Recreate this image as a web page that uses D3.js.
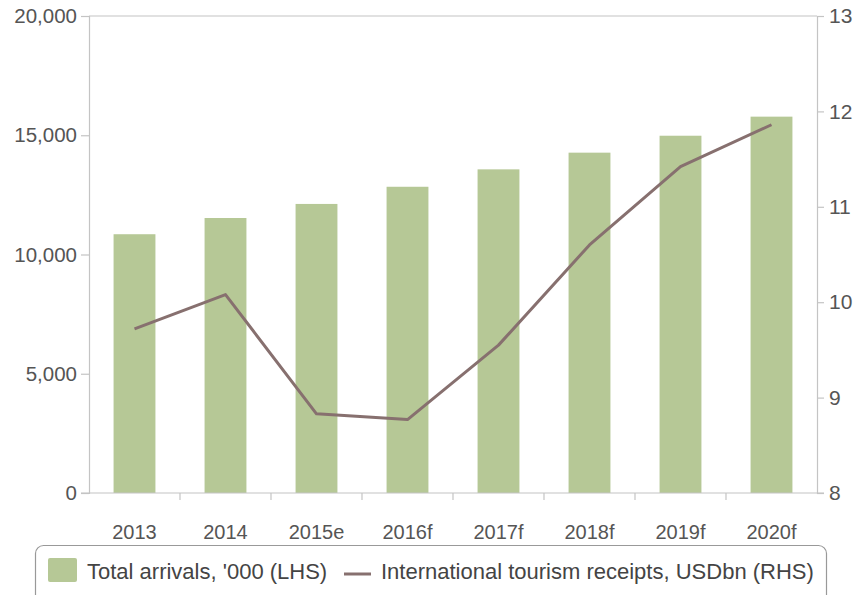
<!DOCTYPE html>
<html><head><meta charset="utf-8">
<script src="https://cdn.jsdelivr.net/npm/d3@7"></script>
<style>body{margin:0;background:#fff}svg{display:block;font-family:"Liberation Sans",Arial,sans-serif}</style>
</head><body>
<svg id="c" width="854" height="595"></svg>
<script>
const categories = ["2013","2014","2015e","2016f","2017f","2018f","2019f","2020f"];
const arrivals = [10850, 11530, 12120, 12840, 13570, 14270, 14980, 15780];
const receipts = [9.72, 10.08, 8.83, 8.77, 9.55, 10.6, 11.42, 11.86];
const leftTicks = [0, 5000, 10000, 15000, 20000];
const rightTicks = [8, 9, 10, 11, 12, 13];
const seriesNames = ["Total arrivals, '000 (LHS)", "International tourism receipts, USDbn (RHS)"];

const svg = d3.select("#c");
const L = 89, R = 817, T = 16, B = 493;
const axisCol = "#c4c4c4", textCol = "#555";
const x = d3.scaleBand().domain(categories).range([L, R]).paddingInner(0.54).paddingOuter(0.27);
const yL = d3.scaleLinear().domain([0, 20000]).range([B, T]);
const yR = d3.scaleLinear().domain([8, 13]).range([B, T]);

svg.append("line").attr("x1", L).attr("x2", R).attr("y1", T).attr("y2", T).attr("stroke", axisCol).attr("stroke-width", 1.2);

svg.append("g").selectAll("rect").data(arrivals).join("rect")
  .attr("x", (d, i) => x(categories[i])).attr("width", x.bandwidth())
  .attr("y", d => yL(d)).attr("height", d => B - yL(d)).attr("fill", "#b6c896");

const gl = svg.append("g").attr("transform", `translate(${L},0)`)
  .call(d3.axisLeft(yL).tickValues(leftTicks).tickFormat(d3.format(",")).tickSize(8).tickPadding(4));
const gr = svg.append("g").attr("transform", `translate(${R},0)`)
  .call(d3.axisRight(yR).tickValues(rightTicks).tickFormat(d3.format("d")).tickSize(7).tickPadding(5));
const gb = svg.append("g").attr("transform", `translate(0,${B})`)
  .call(d3.axisBottom(x).tickSize(0).tickPadding(36));
const bounds = categories.slice(1).map(c => x(c) - x.step() * x.paddingInner() / 2);
svg.append("g").selectAll("line").data(bounds).join("line")
  .attr("x1", d => d).attr("x2", d => d).attr("y1", B).attr("y2", B + 7)
  .attr("stroke", axisCol).attr("stroke-width", 1.2);

[gl, gr, gb].forEach(g => {
  g.select(".domain").attr("stroke", axisCol).attr("stroke-width", 1.2);
  g.selectAll(".tick line").attr("stroke", axisCol).attr("stroke-width", 1.2);
  g.selectAll(".tick text").attr("fill", textCol).attr("font-size", 20.5);
});
gb.select(".domain").attr("d", `M${L - 8},0H${R + 7}`);
gb.selectAll(".tick text").attr("font-size", 20).attr("dy", "0.5em");
gr.selectAll(".tick text").attr("font-size", 21);

const line = d3.line().x((d, i) => x(categories[i]) + x.bandwidth() / 2).y(d => yR(d));
svg.append("path").datum(receipts).attr("d", line).attr("fill", "none")
  .attr("stroke", "#87706f").attr("stroke-width", 3).attr("stroke-linejoin", "round");

const lg = svg.append("g");
lg.append("rect").attr("x", 35.5).attr("y", 545.5).attr("width", 791).attr("height", 60).attr("rx", 8)
  .attr("fill", "#fff").attr("stroke", "#999").attr("stroke-width", 1.2);
lg.append("rect").attr("x", 48).attr("y", 558).attr("width", 29).attr("height", 24).attr("rx", 2).attr("fill", "#b6c896");
lg.append("text").attr("x", 87).attr("y", 579).attr("font-size", 22).attr("fill", "#444").text(seriesNames[0]);
lg.append("line").attr("x1", 344).attr("x2", 371).attr("y1", 574).attr("y2", 574).attr("stroke", "#87706f").attr("stroke-width", 3);
lg.append("text").attr("x", 381).attr("y", 579).attr("font-size", 22).attr("fill", "#444").text(seriesNames[1]);
</script>
</body></html>
